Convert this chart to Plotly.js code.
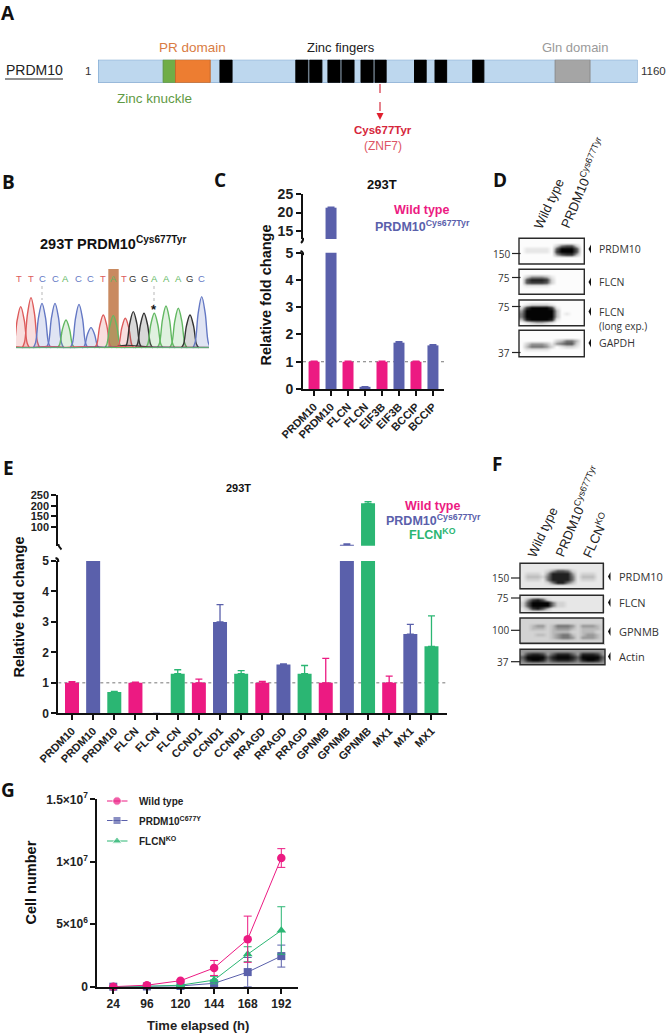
<!DOCTYPE html>
<html>
<head>
<meta charset="utf-8">
<script src="https://cdn.plot.ly/plotly-3.0.1.min.js"></script>
<style>html,body{margin:0;padding:0;background:#fff}</style>
</head>
<body>
<div id="chart" style="width:670px;height:1034px"></div>
<script>
// ---------- DATA ----------
const proteinLength = 1160;
const knuckleDomain = [141, 167.5];
const prDomain = [167.5, 242];
const fingerStarts = [263, 426, 456, 495, 525, 566, 596, 681, 725, 806];
const fingerEnds   = [289, 452, 482, 521, 551, 592, 620, 706, 750, 830];
const glnDomain = [983, 1058];

const seqBases   = ['T','T','C','C','A','C','C','T','A','T','G','G','A','A','A','G','C'];
const peakPos    = [20.7,31,42,55,66,79,91,103.3,113.3,125.3,133.3,144,154.3,166,178.3,190,201.7];
const peakHeight = [125,152,135,135,85,132,62,100,98,90,110,105,105,127,120,100,155];
const letterPos  = [19.3,30.7,42,55,65.3,78.7,90.7,103.3,113.3,124,132.7,144,154,166.7,178.3,189.3,201];

const genesC = ['PRDM10','PRDM10','FLCN','FLCN','EIF3B','EIF3B','BCCIP','BCCIP'];
const foldC  = [1,21.3,1,0.08,1,1.7,1,1.6];
const errC   = [0.02,0.15,0.02,0.01,0.02,0.04,0.02,0.03];
const groupC = [0,1,0,1,0,1,0,1];

const genesE = ['PRDM10','PRDM10','PRDM10','FLCN','FLCN','FLCN','CCND1','CCND1','CCND1','RRAGD','RRAGD','RRAGD','GPNMB','GPNMB','GPNMB','MX1','MX1','MX1'];
const foldE  = [1,5,0.7,1,0,1.3,1,3,1.3,1,1.6,1.3,1,17,211,1,2.6,2.2];
const errE   = [0.04,0,0.02,0.02,0,0.13,0.12,0.57,0.1,0.05,0.02,0.27,0.8,4,8,0.22,0.32,1.0];
const groupE = [0,1,2,0,1,2,0,1,2,0,1,2,0,1,2,0,1,2];

const hours     = ['24','96','120','144','168','192'];
const cellsWT   = [0,120000,480000,1500000,3800000,10300000];
const errWT     = [0,40000,60000,600000,1850000,750000];
const cellsPRDM = [0,20000,60000,270000,1170000,2450000];
const errPRDM   = [0,10000,20000,200000,1170000,880000];
const cellsKO   = [0,30000,120000,530000,2600000,4500000];
const errKO     = [0,10000,30000,300000,600000,1900000];

// Western blot images, one digit per cell: darkness 0 (white) to 9 (black)
const blotD1 = ["0000000000000","0000000000000","0000000256620","0111110699960","0111110799960","0000000467730","0000000000000","0000000000000","0000000000000"];
const blotD2 = ["0000000000000","0000000000000","0244431000000","0688872000000","0677762000000","0111110000000","0000000000000","0000000000000"];
const blotD3 = ["0000000000000","0122221000000","2799997100000","4999999300000","5999999301000","5999999300000","3899998100000","0123321000000","0000000000000"];
const blotD4 = ["0000000000000","0000000000000","0000000000000","0000000235530","0244431456620","0355542012210","0111110000000","0000000000000","0000000000000"];
const blotF1 = ["11111111111111111","11111111111111111","11111246652111111","12221488884122211","13332588885133311","12221588885122211","11111258853111111","11111111111111111","11111111111111111"];
const blotF2 = ["11111111111111111","14786211111111111","26999952211111111","26999952211111111","13786311111111111","11111111111111111"];
const blotF3 = ["22222222222222222","22222222222222222","22344235554244432","22333234443233332","22222233332233322","22233234553234432","22222234554244432","22222222222222222","22222222222222222"];
const blotF4 = ["44444444444444444","47887468886488874","69999689998699996","58998578887589985","44444444444444444"];

// ---------- STYLE ----------
const W = 670, H = 1034;
const MAGENTA = '#ec1a82', BLUE = '#5a60ab', GREEN = '#2bb673';
const groupColor = [MAGENTA, BLUE, GREEN];
const FONT = 'Liberation Sans, Arial, sans-serif';
const OPEN = 'Open Sans, sans-serif';
const INK = '#1a1a1a';
const dx = p => p / W, dy = p => 1 - p / H;

const traces = [], shapes = [], annotations = [];

function note(x, y, text, o) {
  o = o || {};
  annotations.push({
    x, y, xref: 'x', yref: 'y', text, showarrow: false,
    xanchor: o.anchor || 'center', yanchor: 'middle',
    textangle: o.angle || 0, borderpad: 0,
    font: {family: o.family || FONT, size: o.size || 12, color: o.color || INK, weight: o.weight || 400}
  });
}
function pageLine(x0, y0, x1, y1, color, width, dash) {
  shapes.push({type:'line', xref:'x', yref:'y', x0, y0, x1, y1, line:{color, width, dash: dash || 'solid'}});
}
function pagePath(path, fill, lineColor, lineWidth) {
  shapes.push({type:'path', xref:'x', yref:'y', path, fillcolor: fill || 'rgba(0,0,0,0)', line:{color: lineColor || 'rgba(0,0,0,0)', width: lineWidth || 0}});
}

// ---------- PANEL LETTERS ----------
[['A',8,13],['B',8,182],['C',220,180],['D',500,180],['E',8,468],['F',497,464],['G',8,790]].forEach(l =>
  note(l[1], l[2], l[0], {family: OPEN, size: 19, weight: 700, color:'#111'}));

// ---------- PANEL A ----------
function domainBar(starts, ends, fill, line) {
  traces.push({type:'bar', orientation:'h', xaxis:'x2', yaxis:'y2',
    y: starts.map(() => 0), base: starts, x: starts.map((s,i) => ends[i]-s), width: 1,
    marker:{color: fill, line:{color: line, width: 1}}, hoverinfo:'skip', showlegend:false});
}
domainBar([1],[proteinLength],'#bdd7ee','#6e9bc9');
domainBar([knuckleDomain[0]],[knuckleDomain[1]],'#70ad47','#5f9640');
domainBar([prDomain[0]],[prDomain[1]],'#ed7d31','#c46a2c');
domainBar(fingerStarts,fingerEnds,'#000000','#000000');
domainBar([glnDomain[0]],[glnDomain[1]],'#a5a5a5','#8c8c8c');

note(34,70,'PRDM10',{size:14,color:'#222'});
pageLine(5,79,63,79,'#222',1);
note(88,71,'1',{size:11.5,color:'#333'});
note(653.5,71,'1160',{size:11.5,color:'#333'});
note(192.5,47.5,'PR domain',{size:13.5,color:'#d97c43'});
note(340.5,47.5,'Zinc fingers',{size:13,color:'#222'});
note(575,47.5,'Gln domain',{size:13,color:'#9a9a9a'});
note(154,98,'Zinc knuckle',{size:13.5,color:'#5f9a45'});
note(383,129.5,'Cys677Tyr',{size:11.5,weight:700,color:'#d6263b'});
note(383,146,'(ZNF7)',{size:12,color:'#dd5565'});
pageLine(380,84,380,113,'#d94050',1.3,'dash');
pagePath('M376.5 113 L383.5 113 L380 120 Z','#e01f2e');

// ---------- PANEL B ----------
note(113,243,'293T PRDM10<sup>Cys677Tyr</sup>',{size:14.5,weight:700,color:'#111'});
shapes.push({type:'rect',xref:'x',yref:'y',x0:108.3,x1:118.7,y0:269,y1:347,fillcolor:'#c98a60',line:{width:0},layer:'below'});
const baseColor = {T:'#dd5b5b', C:'#6478c4', A:'#62b862', G:'#333333'};
const baseFill  = {T:'rgba(221,91,91,0.2)', C:'rgba(100,120,196,0.2)', A:'rgba(98,184,98,0.2)', G:'rgba(60,60,60,0.2)'};
const peakOffsets = [-9,-6.5,-3.5,0,3.5,6.5,9];
const peakProfile = [0,0.12,0.68,1,0.68,0.12,0];
seqBases.forEach((b,i) => {
  traces.push({type:'scatter',mode:'lines',xaxis:'x3',yaxis:'y3',
    x: peakOffsets.map(o => peakPos[i]+o), y: peakProfile.map(f => f*peakHeight[i]),
    line:{color:baseColor[b],width:1.4,shape:'spline'}, fill:'tozeroy', fillcolor:baseFill[b],
    hoverinfo:'skip', showlegend:false});
});
[['#333',[16,30,50,70,90,112,125,150,180,209],[3,2,4,2,4,3,9,4,3,3]],
 ['#dd5b5b',[16,35,47,66,84,108,118,140,170,209],[4,3,6,3,5,2,5,3,3,2]],
 ['#6478c4',[16,40,70,100,120,160,209],[2,3,2,3,2,3,2]],
 ['#62b862',[16,60,120,170,209],[1,1,2,1,1]]].forEach(n => {
  traces.push({type:'scatter',mode:'lines',xaxis:'x3',yaxis:'y3',x:n[1],y:n[2],
    line:{color:n[0],width:1.2,shape:'spline'},hoverinfo:'skip',showlegend:false});
});
seqBases.forEach((b,i) => note(letterPos[i],278.5,b,{size:9.5,color:baseColor[b]}));
pageLine(42,286,42,300,'#999',0.7,'dot');
pageLine(154,286,154,305,'#999',0.7,'dot');
note(154,309.5,'*',{size:13,color:'#111',weight:700});

// ---------- BAR PANELS ----------
function splitBars(xa, yaLow, yaHigh, values, errors, groups, barWidth, cutoff) {
  groupColor.forEach((color,g) => {
    const idx = values.map((_,i)=>i).filter(i => groups[i]===g);
    if (!idx.length) return;
    const base = {type:'bar',xaxis:xa,width:barWidth,marker:{color,line:{width:0}},hoverinfo:'skip',showlegend:false};
    traces.push(Object.assign({},base,{yaxis:yaLow,x:idx,y:idx.map(i=>values[i]),
      error_y:{type:'data',symmetric:false,array:idx.map(i=>values[i]>=cutoff?0:errors[i]),arrayminus:idx.map(()=>0),color,thickness:1.3,width:3.5}}));
    const hi = idx.filter(i => values[i]>cutoff);
    if (hi.length) traces.push(Object.assign({},base,{yaxis:yaHigh,x:hi,y:hi.map(i=>values[i]),
      error_y:{type:'data',symmetric:false,array:hi.map(i=>errors[i]),arrayminus:hi.map(()=>0),color,thickness:1.3,width:3.5}}));
  });
}
splitBars('x4','y4','y5',foldC,errC,groupC,0.647,5);
splitBars('x5','y6','y7',foldE,errE,groupE,0.662,5);

function dottedOne(xa, ya, x0, x1) {
  shapes.push({type:'line',xref:xa,yref:ya,x0,x1,y0:1,y1:1,layer:'below',line:{color:'#777',width:1,dash:'dot'}});
}
dottedOne('x4','y4',-0.65,7.65);
dottedOne('x5','y6',-0.648,17.72);

// panel C texts
note(381.5,184,'293T',{size:13,weight:700,color:'#111'});
note(265.5,295,'Relative fold change',{size:14.5,weight:700,angle:-90,color:'#111'});
note(421,210,'Wild type',{size:12.5,weight:700,color:MAGENTA});
note(422,226,'PRDM10<sup>Cys677Tyr</sup>',{size:12.5,weight:700,color:BLUE});
pagePath('M303 238 Q303.5 241 301 243','rgba(0,0,0,0)','#111',2);
pagePath('M300.5 251 Q303.5 252 303 255','rgba(0,0,0,0)','#111',2);

// panel E texts
note(238,488,'293T',{size:11,weight:700,color:'#111'});
note(18.5,607,'Relative fold change',{size:14.5,weight:700,angle:-90,color:'#111'});
note(432,505.5,'Wild type',{size:12.5,weight:700,color:MAGENTA});
note(433,520,'PRDM10<sup>Cys677Tyr</sup>',{size:12.5,weight:700,color:BLUE});
note(432.5,534,'FLCN<sup>KO</sup>',{size:12.5,weight:700,color:GREEN});
pagePath('M58.3 544 Q58.5 547 61.5 549.5','rgba(0,0,0,0)','#111',2);
pagePath('M55.5 558 Q58.5 558.5 58.3 562','rgba(0,0,0,0)','#111',2);

// ---------- PANEL G ----------
function growth(values, errors, color, symbol, size) {
  traces.push({type:'scatter',mode:'lines+markers',xaxis:'x6',yaxis:'y8',x:hours.map((_,i)=>i),y:values,
    line:{color,width:1},marker:{color,symbol,size},cliponaxis:false,
    error_y:{type:'data',array:errors,color,thickness:1,width:4},hoverinfo:'skip',showlegend:false});
}
growth(cellsPRDM,errPRDM,BLUE,'square',8);
growth(cellsKO,errKO,GREEN,'triangle-up',8.5);
growth(cellsWT,errWT,MAGENTA,'circle',8.5);
function key(y, color, symbol, size, label) {
  traces.push({type:'scatter',mode:'lines+markers',xaxis:'x',yaxis:'y',x:[107,117,127.5],y:[y,y,y],
    line:{color,width:1},marker:{color,symbol,size:[0,size,0]},hoverinfo:'skip',showlegend:false});
  note(138,y,label,{anchor:'left',size:10,weight:700,color:'#222'});
}
key(801,MAGENTA,'circle',8.5,'Wild type');
key(820.5,BLUE,'square',8,'PRDM10<sup>C677Y</sup>');
key(841,GREEN,'triangle-up',8.5,'FLCN<sup>KO</sup>');
note(197.5,1025,'Time elapsed (h)',{size:13,weight:700,color:'#222'});
note(30.5,883,'Cell number',{size:14.5,weight:700,angle:-90,color:'#111'});

// ---------- WESTERN BLOTS ----------
const blotScale = [[0,'#fcfcfc'],[0.3,'#c4c4c4'],[0.6,'#6a6a6a'],[1,'#040404']];
function blot(rows, x0, stepX, y0, stepY) {
  traces.push({type:'heatmap',xaxis:'x',yaxis:'y',x0,dx:stepX,y0,dy:stepY,
    z: rows.map(r => r.split('').map(Number)), zmin:0, zmax:9, zsmooth:'best',
    colorscale:blotScale, showscale:false, hoverinfo:'skip'});
}
function frame(x0,x1,y0,y1) {
  shapes.push({type:'rect',xref:'x',yref:'y',x0,x1,y0,y1,line:{color:'#2a2a2a',width:1.4},fillcolor:'rgba(0,0,0,0)'});
}
function marker(label, y, x0, x1) {
  pageLine(x0,y,x1,y,'#222',1.2);
  note(x0-1,y,label,{anchor:'right',size:10,color:'#333',family:OPEN});
}
function pointer(x,y) { pagePath(`M${x} ${y} L${x+2.5} ${y-4.5} L${x+2.5} ${y+4.5} Z`,'#111'); }

blot(blotD1,521.5,5,239.5,3); blot(blotD2,521.5,5,270.5,3); blot(blotD3,521.5,5,301.5,3); blot(blotD4,521.5,5,331.5,3);
frame(519,584.3,238.3,264); frame(519,584.3,269.3,294.3); frame(519,584.3,300,325.7); frame(519,584.3,330.3,356.7);
marker('150',253.5,512,520.5); marker('75',277.5,512,520.5); marker('75',306.5,512,520.5); marker('37',352.5,512,520.5);
[249,282,311.5,343].forEach(y => pointer(588.5,y));
note(598,249,'PRDM10',{anchor:'left',size:10.5,family:OPEN,color:'#333'});
note(598,282,'FLCN',{anchor:'left',size:10.5,family:OPEN,color:'#333'});
note(598,311.5,'FLCN',{anchor:'left',size:10.5,family:OPEN,color:'#333'});
note(598,325.5,'(long exp.)',{anchor:'left',size:10,family:OPEN,color:'#333'});
note(598,343,'GAPDH',{anchor:'left',size:10.5,family:OPEN,color:'#333'});
note(548.3,204,'Wild type',{angle:-65,size:13,color:'#222'});
note(582.7,183,'PRDM10<sup>Cys677Tyr</sup>',{angle:-67,size:13,color:'#222'});

blot(blotF1,522.5,5,564.5,3); blot(blotF2,522.5,5,596.5,3); blot(blotF3,522.5,5,619.5,3); blot(blotF4,522.5,5,651,3);
frame(520,603.3,563.3,588.7); frame(520,603.3,595.3,612.7); frame(520,603.3,618,643.3); frame(520,605,649.3,664.7);
marker('150',578,511,520); marker('75',598,511,520); marker('100',630.3,511,520); marker('37',661.7,511,520);
[576.5,602.5,631.5,656.5].forEach(y => pointer(608,y));
note(617.5,576.5,'PRDM10',{anchor:'left',size:11,family:OPEN,color:'#333'});
note(617.5,602.5,'FLCN',{anchor:'left',size:11,family:OPEN,color:'#333'});
note(617.5,631.5,'GPNMB',{anchor:'left',size:11,family:OPEN,color:'#333'});
note(617.5,656.5,'Actin',{anchor:'left',size:11,family:OPEN,color:'#333'});
note(542.5,532.5,'Wild type',{angle:-65,size:13,color:'#222'});
note(576.7,511.5,'PRDM10<sup>Cys677Tyr</sup>',{angle:-67,size:13,color:'#222'});
note(595,535.5,'FLCN<sup>KO</sup>',{angle:-65,size:13,color:'#222'});

// ---------- AXES ----------
const hidden = {visible:false, fixedrange:true};
function yAxis(anchor, top, bottom, range, vals, size, text) {
  return {anchor, domain:[dy(bottom),dy(top)], range, tickmode:'array', tickvals:vals, ticktext:text,
    showgrid:false, zeroline:false, showline:true, linecolor:'#111', linewidth:2,
    ticks:'outside', ticklen:5, tickwidth:2, tickcolor:'#111',
    tickfont:{family:FONT,size,color:'#222',weight:700}};
}
function xAxis(anchor, left, right, range, vals, text, size, angle, tl) {
  return {anchor, domain:[dx(left),dx(right)], range, tickmode:'array', tickvals:vals, ticktext:text, tickangle:angle,
    showgrid:false, zeroline:false, showline:true, linecolor:'#111', linewidth:2,
    ticks:'outside', ticklen:tl, tickwidth:2, tickcolor:'#111',
    tickfont:{family:FONT,size,color:'#222',weight:700}};
}

const layout = {
  width:W, height:H, margin:{l:0,r:0,t:0,b:0,pad:0}, paper_bgcolor:'#fff', plot_bgcolor:'rgba(0,0,0,0)',
  barmode:'overlay', hovermode:false, showlegend:false, shapes, annotations,
  xaxis: Object.assign({},hidden,{domain:[0,1],range:[0,W],anchor:'y'}),
  yaxis: Object.assign({},hidden,{domain:[0,1],range:[H,0],anchor:'x'}),
  xaxis2: Object.assign({},hidden,{domain:[dx(98),dx(637.5)],range:[1,proteinLength],anchor:'y2'}),
  yaxis2: Object.assign({},hidden,{domain:[dy(82.7),dy(59.7)],range:[-0.5,0.5],anchor:'x2'}),
  xaxis3: Object.assign({},hidden,{domain:[dx(16),dx(209)],range:[16,209],anchor:'y3'}),
  yaxis3: Object.assign({},hidden,{domain:[dy(348.3),dy(290)],range:[0,175],anchor:'x3'}),
  xaxis4: xAxis('y4',303,444,[-0.65,7.65],genesC.map((_,i)=>i),genesC,11,-45,5),
  yaxis4: yAxis('x4',252.7,389,[0,5],[0,1,2,3,4,5],14,['0','1','2','3','4','5']),
  yaxis5: yAxis('x4',194,239,[12.84,25],[15,20,25],14,['15','20','25']),
  xaxis5: xAxis('y6',58.3,446.7,[-0.648,17.72],genesE.map((_,i)=>i),genesE,11,-45,5),
  yaxis6: yAxis('x5',561,713.3,[0,5],[0,1,2,3,4,5],12,['0','1','2','3','4','5']),
  yaxis7: yAxis('x5',495,545.7,[12.4,250],[100,150,200,250],11,['100','150','200','250']),
  xaxis6: xAxis('y8',97.3,298.3,[-0.476,5.506],hours.map((_,i)=>i),hours,12,0,5),
  yaxis8: yAxis('x6',799.3,986.7,[0,15000000],[0,5000000,10000000,15000000],12,['0','5×10<sup>6</sup>','1×10<sup>7</sup>','1.5×10<sup>7</sup>'])
};

Plotly.newPlot('chart', traces, layout, {staticPlot:true, displayModeBar:false});
</script>
</body>
</html>
